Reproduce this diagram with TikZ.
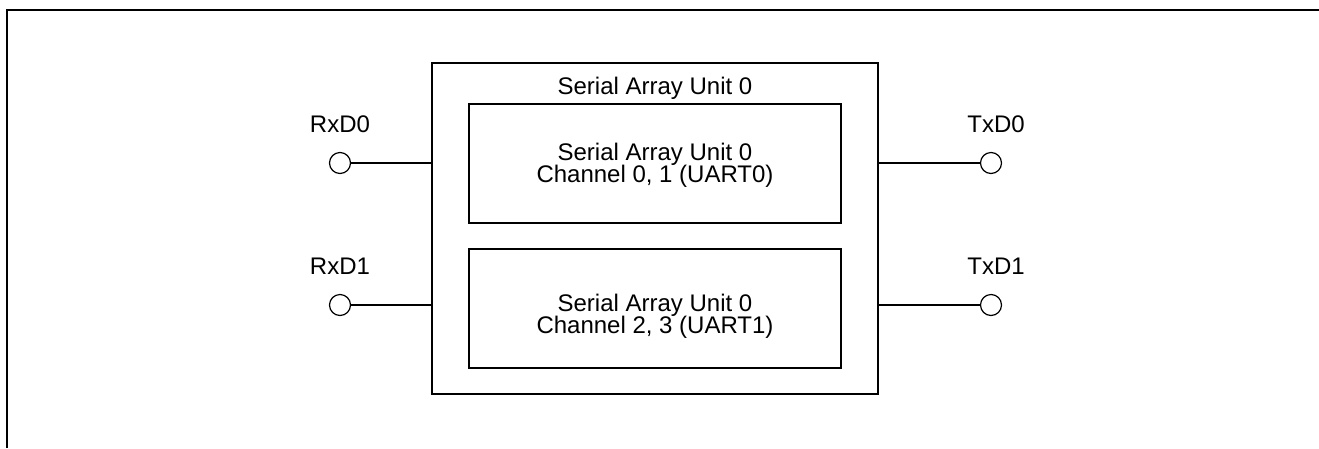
\documentclass[tikz,border=0pt]{standalone}
\usepackage{fontspec}
\setmainfont{Liberation Sans}
\begin{document}
\begin{tikzpicture}[x=1pt,y=-1pt,
  frame/.style={line width=2pt},
  box/.style={draw, line width=1.3pt, inner sep=0pt},
  wire/.style={line width=1.3pt},
  pin/.style={draw, circle, line width=1.2pt, minimum size=21pt, inner sep=0pt},
  txt/.style={font=\fontsize{24}{22}\selectfont, inner sep=0pt, anchor=base}]
\useasboundingbox (0,0) rectangle (1319,448);
% page frame
\draw[frame] (7,448) -- (7,10) -- (1319,10);
% serial array unit and its two channel blocks
\node[box, minimum width=446pt, minimum height=331pt] (unit) at (655,228.5) {};
\node[box, minimum width=372pt, minimum height=119pt] (ch0) at (655,163.5) {};
\node[box, minimum width=372pt, minimum height=119pt] (ch1) at (655,308.5) {};
\node[txt] (title) at (655,94) {Serial Array Unit 0};
\node[txt] (ch0a) at (655,160) {Serial Array Unit 0};
\node[txt] (ch0b) at (655,182) {Channel 0, 1 (UART0)};
\node[txt] (ch1a) at (655,311) {Serial Array Unit 0};
\node[txt] (ch1b) at (655,333) {Channel 2, 3 (UART1)};
% pins
\node[pin] (rx0) at (340,163) {};
\node[pin] (rx1) at (340,305) {};
\node[pin] (tx0) at (991,163) {};
\node[pin] (tx1) at (991,305) {};
\node[txt] (lrx0) at (340,132) {RxD0};
\node[txt] (lrx1) at (340,274) {RxD1};
\node[txt] (ltx0) at (996,132) {TxD0};
\node[txt] (ltx1) at (996,274) {TxD1};
% pin wires
\draw[wire] (rx0) -- (rx0 -| unit.west);
\draw[wire] (rx1) -- (rx1 -| unit.west);
\draw[wire] (tx0) -- (tx0 -| unit.east);
\draw[wire] (tx1) -- (tx1 -| unit.east);
\end{tikzpicture}
\end{document}
